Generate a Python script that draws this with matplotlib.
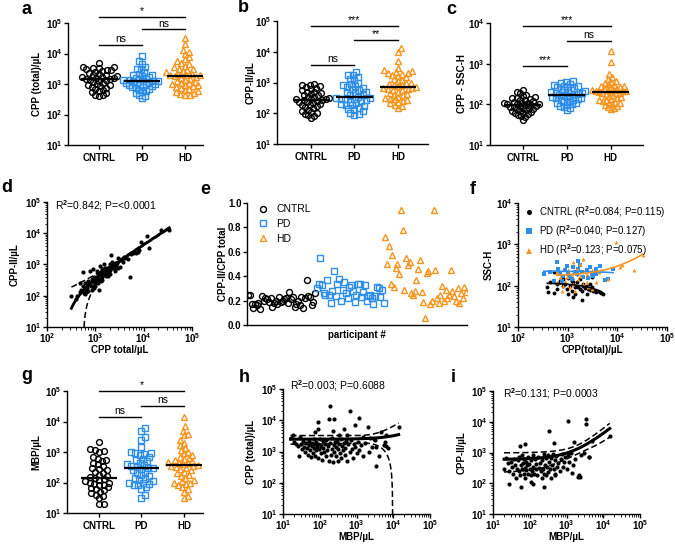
import numpy as np
import matplotlib
matplotlib.use('Agg')
import matplotlib.pyplot as plt
from matplotlib.ticker import FuncFormatter, FixedLocator, LogLocator, NullFormatter, NullLocator

plt.rcParams.update({
    'font.family': 'Liberation Sans', 'font.size': 7, 'font.weight': 'bold',
    'mathtext.fontset': 'custom', 'mathtext.rm': 'Liberation Sans',
    'mathtext.bf': 'Liberation Sans:bold', 'mathtext.it': 'Liberation Sans:italic',
    'axes.linewidth': 1.0,
})

# ---------------- data ----------------
groups = ['CNTRL', 'PD', 'HD']
BLUE = '#2f8fe8'
ORANGE = '#f7941d'

a_cntrl = [4800, 3600, 3500, 3400, 3300, 3000, 2900, 2800, 2700, 2500, 2300, 2200, 2000, 1900, 1800, 1700, 1650, 1600, 1550, 1500,
           1450, 1400, 1350, 1300, 1200, 1100, 1000, 950, 900, 850, 800, 750, 700, 650, 600, 550, 500, 450, 420, 400]
a_pd = [8500, 5500, 4500, 3500, 3200, 3000, 2500, 2200, 2000, 1900, 1800, 1700, 1600, 1500, 1450, 1400, 1350, 1300, 1250, 1250,
        1200, 1150, 1100, 1050, 1000, 1000, 950, 900, 850, 800, 780, 750, 700, 650, 600, 550, 500, 450, 400, 350]
a_hd = [33000, 20000, 13000, 11000, 9500, 7500, 6500, 5500, 5000, 4500, 4000, 3500, 3200, 3000, 2800, 2600, 2400, 2200, 2100, 2000,
        2000, 1900, 1800, 1700, 1600, 1500, 1400, 1300, 1200, 1100, 1050, 1000, 950, 900, 850, 800, 750, 700, 650, 600,
        550, 500, 480, 450, 450]

b_cntrl = [900, 850, 800, 750, 700, 650, 600, 550, 500, 480, 450, 420, 400, 380, 350, 330, 310, 300, 290, 280,
           270, 260, 250, 240, 230, 220, 200, 190, 180, 170, 160, 150, 130, 120, 110, 100, 95, 90, 80, 70]
b_pd = [2200, 1800, 1700, 1500, 1300, 1200, 1000, 900, 800, 750, 700, 650, 600, 550, 500, 480, 450, 400, 380, 350,
        320, 310, 300, 290, 280, 260, 250, 240, 220, 200, 190, 180, 170, 150, 140, 130, 120, 100, 95, 90]
b_hd = [13000, 10000, 5000, 3000, 2500, 2300, 2200, 2100, 2000, 1900, 1800, 1600, 1500, 1300, 1200, 1100, 1000, 950, 900, 850,
        800, 750, 700, 680, 650, 620, 600, 580, 550, 500, 450, 420, 400, 380, 350, 320, 300, 280, 260, 250,
        230, 210, 190, 170, 150]

c_cntrl = [220, 200, 190, 170, 160, 150, 145, 140, 135, 130, 125, 120, 115, 110, 108, 105, 102, 100, 100, 98,
           95, 92, 90, 88, 85, 82, 80, 78, 75, 72, 70, 68, 65, 62, 60, 58, 55, 52, 48, 42]
c_pd = [380, 360, 340, 320, 300, 290, 280, 270, 260, 250, 240, 230, 220, 210, 200, 195, 190, 185, 180, 175,
        170, 165, 160, 155, 150, 145, 140, 135, 130, 125, 120, 115, 110, 105, 100, 95, 90, 85, 80, 72]
c_hd = [2100, 1100, 550, 470, 420, 380, 360, 340, 320, 300, 290, 280, 270, 260, 250, 240, 230, 225, 220, 215,
        210, 210, 205, 200, 195, 190, 185, 180, 170, 160, 150, 140, 135, 130, 125, 120, 115, 110, 105, 100,
        95, 90, 85, 80, 78]

g_cntrl = [2200, 1300, 1200, 1100, 1000, 700, 600, 550, 500, 450, 400, 350, 300, 280, 250, 220, 200, 180, 160, 150,
           140, 130, 120, 110, 100, 95, 90, 85, 80, 70, 65, 60, 55, 50, 45, 40, 35, 30, 20, 20]
g_pd = [6000, 4800, 3200, 2500, 1500, 1000, 950, 900, 850, 800, 700, 600, 550, 500, 450, 400, 380, 350, 320, 300,
        290, 280, 250, 220, 200, 180, 160, 140, 130, 120, 110, 100, 95, 90, 85, 80, 70, 60, 40, 32]
g_hd = [14000, 7000, 5000, 4000, 3500, 2500, 2000, 1700, 1400, 1200, 1000, 900, 800, 700, 650, 600, 550, 500, 480, 450,
        420, 400, 380, 360, 340, 320, 300, 280, 250, 220, 200, 180, 160, 140, 120, 110, 100, 95, 90, 80,
        70, 60, 50, 35, 30]

e_cntrl = [0.25, 0.25, 0.17, 0.14, 0.17, 0.16, 0.18, 0.13, 0.24, 0.20, 0.22, 0.21, 0.19, 0.22, 0.15, 0.18, 0.20, 0.17, 0.23, 0.19,
           0.20, 0.21, 0.22, 0.18, 0.27, 0.21, 0.23, 0.15, 0.17, 0.20, 0.16, 0.23, 0.14, 0.22, 0.37, 0.24, 0.23, 0.16, 0.19, 0.26]
e_pd = [0.30, 0.34, 0.55, 0.33, 0.26, 0.25, 0.37, 0.25, 0.18, 0.28, 0.44, 0.24, 0.34, 0.38, 0.20, 0.29, 0.35, 0.26, 0.22, 0.31,
        0.33, 0.28, 0.19, 0.25, 0.34, 0.34, 0.23, 0.27, 0.33, 0.20, 0.24, 0.25, 0.22, 0.17, 0.24, 0.31, 0.30, 0.23, 0.29, 0.18]
e_hd = [0.72, 0.50, 0.65, 0.34, 0.57, 0.31, 0.47, 0.50, 0.42, 0.94, 0.78, 0.29, 0.55, 0.49, 0.52, 0.26, 0.25, 0.28, 0.37, 0.46,
        0.53, 0.27, 0.19, 0.06, 0.43, 0.44, 0.17, 0.20, 0.94, 0.45, 0.22, 0.18, 0.25, 0.32, 0.20, 0.29, 0.22, 0.25, 0.45, 0.28,
        0.24, 0.20, 0.30, 0.18, 0.26, 0.22, 0.31, 0.27]

d_cpp_total = [34000, 23000, 11500, 13000, 9000, 6800, 5500, 4700, 5100, 3000, 2100, 3200, 2700,
               320, 390, 420, 480, 560, 480, 600, 650, 760, 700, 830, 900, 1050, 1150, 1330, 1450, 1700, 1800, 1950, 2050, 2300, 2500, 1230,
               500, 550, 600, 620, 680, 700, 750, 800, 850, 900, 950, 1000, 1000, 1050, 1100, 1100, 1200, 1250, 1300, 1350,
               1400, 1500, 1500, 1600, 1600, 1700, 1800, 1900, 2000, 2100, 2200, 2400, 2600, 2800, 3500, 4000, 4200, 6000, 7500, 8000,
               3800, 1150, 950, 850, 1300, 1400, 1700, 2000, 2500, 3000, 700, 580, 1200, 1000, 1800, 2200, 1500, 900]
d_cpp2 = [13000, 13000, 8200, 3400, 5200, 2400, 2150, 1500, 390, 1600, 2050, 820, 930,
          100, 78, 100, 130, 570, 255, 165, 130, 600, 220, 280, 210, 345, 460, 565, 720, 720, 440, 565, 1050, 820, 640, 880,
          150, 200, 250, 110, 180, 300, 250, 200, 350, 300, 400, 250, 350, 280, 400, 600, 350, 500, 450, 700,
          400, 550, 650, 500, 800, 600, 700, 800, 650, 900, 750, 900, 1000, 1100, 1400, 1800, 1600, 2300, 2600, 3000,
          1200, 250, 180, 150, 300, 320, 420, 500, 700, 800, 140, 120, 150, 200, 550, 1200, 1000, 700]

f_cntrl_x = [390, 410, 520, 600, 700, 820, 950, 1030, 1200, 1300, 1400, 1510, 1770, 1900, 2060, 2400, 2590, 2800, 3020, 3260,
             3520, 3800, 4100, 4430, 4790, 5170, 1900, 1400, 520, 820, 1200, 1510, 3020, 600, 700, 900, 1100, 1300, 1600, 2200,
             2500, 2800, 1800, 450, 1000, 1200, 2000]
f_cntrl_y = [91, 69, 65, 110, 133, 100, 83, 63, 75, 54, 91, 121, 146, 75, 100, 63, 83, 110, 91, 75,
             75, 69, 75, 69, 65, 63, 45, 63, 212, 146, 146, 193, 160, 83, 120, 110, 100, 120, 95, 90,
             100, 80, 85, 120, 150, 130, 110]
f_pd_x = [330, 600, 650, 950, 1200, 1400, 1640, 1770, 2400, 3020, 3800, 4430, 5570, 6500, 8200, 820, 1100, 2060, 1300, 3260,
          520, 700, 2800, 1900, 900, 1030, 1510, 440, 760, 2590, 3800, 1640]
f_pd_y = [193, 372, 255, 292, 146, 212, 393, 309, 233, 193, 255, 292, 138, 146, 255, 175, 160, 160, 280, 175,
          133, 193, 280, 212, 233, 193, 193, 212, 133, 155, 193, 255]
f_hd_x = [9260, 11100, 12600, 21500, 32500, 6500, 4300, 3020, 2400, 2060, 1770, 1510, 1300, 1200, 1030, 900, 820, 760, 1100, 1300,
          1640, 2060, 2590, 3020, 950, 700, 600, 2400, 3800, 1770, 1400, 600]
f_hd_y = [1150, 281, 309, 233, 540, 146, 212, 233, 193, 450, 340, 255, 372, 193, 233, 133, 100, 75, 91, 110,
          146, 110, 91, 83, 160, 160, 212, 121, 121, 175, 75, 121]

h_mbp = [190, 680, 183, 245, 1200, 91, 89, 910, 2000, 14000, 4500, 450, 235, 75, 19, 29, 325, 550, 1550, 2350,
         3200, 3500, 6000, 6400, 4000, 3500,
         20, 22, 25, 28, 30, 33, 35, 38, 40, 42, 45, 48, 50, 52, 55, 58, 60, 62, 65, 68,
         70, 72, 75, 78, 80, 85, 88, 90, 95, 100, 105, 110, 115, 120, 125, 130, 140, 145, 150, 160,
         170, 180, 190, 200, 210, 220, 230, 240, 250, 260, 270, 280, 300, 310, 320, 340, 350, 370, 380, 400,
         420, 450, 480, 500, 520, 550, 600, 650, 700, 750, 800, 850, 900, 1000, 1100, 1200, 1300, 1500, 1700, 2200,
         2600, 3000, 5500, 7000, 6500, 16]
h_cpp_total = [29000, 19500, 10800, 10800, 12000, 8900, 5400, 7200, 5900, 6000, 4200, 5400, 4400, 4200, 3300, 2900, 3300, 3300, 2900, 2700,
               2250, 1380, 2000, 1500, 740, 340,
               2000, 1700, 1500, 700, 1800, 1200, 2200, 1400, 1000, 1900, 1300, 800, 1600, 2100, 1100, 650, 1500, 1900, 900, 1300,
               2500, 700, 1700, 1100, 2000, 1400, 600, 1800, 1200, 2600, 900, 1500, 550, 2100, 1300, 1000, 1700, 700, 2300, 1100,
               1500, 500, 1900, 800, 2700, 1200, 450, 1600, 1000, 2000, 700, 1400, 2200, 500, 1200, 1800, 900, 2500, 600, 1500,
               1100, 1900, 800, 1300, 2100, 500, 1700, 1000, 2400, 1200, 600, 1800, 1400, 900, 2000, 1100, 1600, 700, 1900, 1000,
               1400, 2600, 1600, 1300, 3400, 2800]

i_mbp = [1120, 3300, 3300, 340, 15000, 5000, 1620, 470, 53, 72, 4100, 28, 59, 250, 110, 120, 2000, 2200, 2400, 1450, 500,
         20, 22, 25, 28, 30, 33, 35, 38, 40, 42, 45, 48, 50, 52, 55, 58, 60, 62, 65, 68,
         70, 72, 75, 78, 80, 85, 88, 90, 95, 100, 105, 110, 115, 120, 125, 130, 140, 145, 150, 160,
         170, 180, 190, 200, 210, 220, 230, 240, 250, 260, 270, 280, 300, 310, 320, 340, 350, 370, 380, 400,
         420, 450, 480, 500, 520, 550, 600, 650, 700, 750, 800, 850, 900, 1000, 1100, 1200, 1300, 1500, 1700, 2500,
         3000, 4000]
i_cpp2 = [10700, 12600, 8700, 5000, 3400, 2300, 2200, 2050, 1600, 1950, 720, 98, 77, 77, 112, 94, 160, 180, 155, 210, 180,
          300, 650, 450, 250, 500, 350, 200, 600, 400, 150, 300, 550, 250, 700, 180, 380, 800, 280, 450, 200,
          600, 320, 150, 500, 260, 380, 700, 200, 430, 300, 180, 550, 250, 850, 350, 200, 600, 280, 420, 180,
          700, 320, 450, 250, 150, 550, 300, 900, 200, 400, 650, 180, 350, 800, 230, 500, 280, 650, 150, 400,
          900, 300, 550, 200, 750, 350, 450, 250, 600, 900, 350, 500, 700, 300, 850, 500, 950, 400, 600, 800,
          1000, 700]

sig_a = [(0, 1, 'ns', 19000), (1, 2, 'ns', 62000), (0, 2, '*', 160000)]
sig_b = [(0, 1, 'ns', 3700), (1, 2, '**', 24000), (0, 2, '***', 69000)]
sig_c = [(0, 1, '***', 880), (1, 2, 'ns', 3700), (0, 2, '***', 8300)]
sig_g = [(0, 1, 'ns', 14000), (1, 2, 'ns', 32000), (0, 2, '*', 100000)]

stats_d = 'R$^2$=0.842; P=<0.0001'
stats_h = 'R$^2$=0.003; P=0.6088'
stats_i = 'R$^2$=0.131; P=0.0003'
f_labels = ['CNTRL (R$^2$=0.084; P=0.115)', 'PD (R$^2$=0.040; P=0.127)', 'HD (R$^2$=0.123; P=0.075)']

# ---------------- helpers ----------------
W, H = 675, 545
fig = plt.figure(figsize=(W / 100, H / 100), dpi=100)


def axpx(l, t, r, b):
    return fig.add_axes([l / W, 1 - b / H, (r - l) / W, (b - t) / H])


def logfmt(v, pos):
    return r'$\mathbf{10^{%d}}$' % int(round(np.log10(v)))


def base_style(ax):
    ax.spines['top'].set_visible(False)
    ax.spines['right'].set_visible(False)
    ax.tick_params(which='major', direction='out', length=3, width=1, pad=1.0, labelsize=7)
    ax.tick_params(which='minor', direction='out', length=1.8, width=0.6)


def log_axis(axis, lo_e, hi_e, minor=True):
    axis.set_major_locator(FixedLocator([10.0 ** e for e in range(lo_e, hi_e + 1)]))
    axis.set_major_formatter(FuncFormatter(logfmt))
    if minor:
        axis.set_minor_locator(LogLocator(base=10, subs=np.arange(2, 10)))
    else:
        axis.set_minor_locator(NullLocator())
    axis.set_minor_formatter(NullFormatter())


def swarm_x(ax, xc, vals, d, cap):
    vals = np.asarray(vals, float)
    pts = ax.transData.transform(np.column_stack([np.full(len(vals), xc), vals]))
    ys = pts[:, 1]
    x0 = pts[0, 0]
    order = np.argsort(ys)
    px, py = [], []
    offs = np.zeros(len(vals))
    for i in order:
        y = ys[i]
        cands = [0.0]
        for qx, qy in zip(px, py):
            dy = abs(qy - y)
            if dy < d:
                dx = np.sqrt(d * d - dy * dy)
                cands += [qx + dx, qx - dx]
        cands.sort(key=abs)
        chosen = 0.0
        for c in cands:
            if all((c - qx) ** 2 + (y - qy) ** 2 >= d * d - 1e-6 for qx, qy in zip(px, py)):
                chosen = c
                break
        px.append(chosen)
        py.append(y)
        offs[i] = chosen
    m = np.max(np.abs(offs))
    if m > cap:
        offs = offs * cap / m
    back = ax.transData.inverted().transform(np.column_stack([x0 + offs, ys]))
    return back[:, 0]


def ylabel_at(ax, text, cx_px, l, r):
    ax.set_ylabel(text, fontsize=7, fontweight='bold')
    ax.yaxis.set_label_coords((cx_px + 4.5 - l) / (r - l), 0.5)


def xlabel_at(ax, text, top_px, t, b):
    ax.set_xlabel(text, fontsize=7, fontweight='bold')
    ax.xaxis.set_label_coords(0.5, -(top_px - b) / (b - t))


def dot_panel(box, data, ylab, ylab_x, sigs, top_e, xlim):
    l, t, r, b = box
    ax = axpx(l, t, r, b)
    base_style(ax)
    ax.set_yscale('log')
    ax.set_ylim(10, 10.0 ** top_e)
    ax.set_xlim(*xlim)
    log_axis(ax.yaxis, 1, top_e, minor=False)
    ax.set_xticks([0, 1, 2])
    ax.set_xticklabels(groups, fontweight='bold')
    ax.tick_params(axis='x', length=3, pad=3)
    styles = [('o', 'k'), ('s', BLUE), ('^', ORANGE)]
    for k, vals in enumerate(data):
        xs = swarm_x(ax, k, vals, 4.8, 18.5)
        m, c = styles[k]
        ax.plot(xs, vals, m, ls='none', mfc='none', mec=c, ms=4.2, mew=1.0, zorder=3)
        ax.hlines(np.median(vals), k - 0.42, k + 0.42, color='k', lw=1.6, zorder=5)
    for x1, x2, lab, yv in sigs:
        ax.plot([x1, x2], [yv, yv], color='k', lw=1.0, clip_on=False, zorder=6)
        ax.text((x1 + x2) / 2, yv * 1.05, lab, ha='center', va='bottom', fontsize=7.5,
                fontweight='normal', clip_on=False)
    ylabel_at(ax, ylab, ylab_x, l, r)
    return ax


def fit_ci(x, y, xs):
    x = np.asarray(x, float)
    y = np.asarray(y, float)
    slope, inter = np.polyfit(x, y, 1)
    yhat = inter + slope * xs
    res = y - (inter + slope * x)
    n = len(x)
    s = np.sqrt(np.sum(res ** 2) / (n - 2))
    se = s * np.sqrt(1.0 / n + (xs - x.mean()) ** 2 / np.sum((x - x.mean()) ** 2))
    return yhat, yhat - 1.98 * se, yhat + 1.98 * se


def pos(v):
    v = np.asarray(v, float)
    return np.where(v > 0, v, np.nan)


def scatter_panel(box, x, y, xe, ye, ylab, ylab_x, xlab, xlab_top, stats, stats_px, lw_fit):
    l, t, r, b = box
    ax = axpx(l, t, r, b)
    base_style(ax)
    ax.tick_params(axis='x', which='major', pad=0.3)
    ax.set_xscale('log')
    ax.set_yscale('log')
    ax.set_xlim(10.0 ** xe[0], 10.0 ** xe[1])
    ax.set_ylim(10.0 ** ye[0], 10.0 ** ye[1])
    log_axis(ax.xaxis, xe[0], xe[1])
    log_axis(ax.yaxis, ye[0], ye[1])
    n = min(len(x), len(y))
    x = np.asarray(x[:n], float)
    y = np.asarray(y[:n], float)
    ax.plot(x, y, 'o', color='k', ms=3.0, mew=0, zorder=3)
    xs = np.logspace(np.log10(x.min()), np.log10(x.max()), 400)
    yh, lo, hi = fit_ci(x, y, xs)
    ax.plot(xs, pos(yh), color='k', lw=lw_fit, zorder=4)
    ax.plot(xs, pos(lo), color='k', lw=1.1, ls=(0, (4, 2)), zorder=4)
    ax.plot(xs, pos(hi), color='k', lw=1.1, ls=(0, (4, 2)), zorder=4)
    ylabel_at(ax, ylab, ylab_x, l, r)
    xlabel_at(ax, xlab, xlab_top, t, b)
    fig.text(stats_px[0] / W, 1 - stats_px[1] / H, stats, fontsize=7.5, fontweight='normal',
             ha='left', va='center')
    return ax


# ---------------- row 1 ----------------
dot_panel((68, 23, 203, 145), [a_cntrl, a_pd, a_hd], 'CPP (total)/µL', 38, sig_a, 5, (-0.72, 2.42))
dot_panel((277, 21, 428, 144), [b_cntrl, b_pd, b_hd], 'CPP-II/µL', 251, sig_b, 5, (-0.78, 2.69))
dot_panel((490, 23, 643, 145), [c_cntrl, c_pd, c_hd], 'CPP - SSC-H', 462, sig_c, 4, (-0.74, 2.73))

# ---------------- row 2 ----------------
scatter_panel((47, 202, 192, 327), d_cpp_total, d_cpp2, (2, 5), (1, 5), 'CPP-II/µL', 15,
              'CPP total/µL', 345, stats_d, (55, 206), 2.0)

# panel e
l, t, r, b = 247, 203, 467, 325
axe = axpx(l, t, r, b)
base_style(axe)
n1, n2, n3 = len(e_cntrl), len(e_pd), len(e_hd)
idx = np.arange(1, n1 + n2 + n3 + 1)
axe.plot(idx[:n1], e_cntrl, 'o', ls='none', mfc='none', mec='k', ms=4.3, mew=1.0, label='CNTRL')
axe.plot(idx[n1:n1 + n2], e_pd, 's', ls='none', mfc='none', mec=BLUE, ms=4.3, mew=1.0, label='PD')
axe.plot(idx[n1 + n2:], e_hd, '^', ls='none', mfc='none', mec=ORANGE, ms=4.3, mew=1.0, label='HD')
axe.set_xlim(0.3, n1 + n2 + n3 + 0.5)
axe.set_ylim(0, 1.0)
axe.set_yticks(np.arange(0, 1.01, 0.2))
axe.yaxis.set_major_formatter(FuncFormatter(lambda v, p: '%.1f' % v))
axe.set_xticks([])
ylabel_at(axe, 'CPP-II/CPP total', 224, l, r)
xlabel_at(axe, 'participant #', 330, t, b)
axe.legend(loc='upper left', bbox_to_anchor=(0.02, 1.04), frameon=False, handletextpad=0.8,
           labelspacing=0.45, borderaxespad=0.2, prop={'weight': 'normal', 'size': 7.5}, handlelength=1.0)

# panel f
l, t, r, b = 518, 203, 667, 327
axf = axpx(l, t, r, b)
base_style(axf)
axf.tick_params(axis='x', which='major', pad=0.3)
axf.set_xscale('log')
axf.set_yscale('log')
axf.set_xlim(1e2, 1e5)
axf.set_ylim(1e1, 1e4)
log_axis(axf.xaxis, 2, 5)
log_axis(axf.yaxis, 1, 4)
fsets = [(f_cntrl_x, f_cntrl_y, 'o', 'k'), (f_pd_x, f_pd_y, 's', BLUE), (f_hd_x, f_hd_y, '^', ORANGE)]
handles = []
for (fx, fy, m, c), lab in zip(fsets, f_labels):
    n = min(len(fx), len(fy))
    fx = np.asarray(fx[:n], float)
    fy = np.asarray(fy[:n], float)
    hnd, = axf.plot(fx, fy, m, ls='none', color=c, ms=2.8, mew=0, zorder=3, label=lab)
    handles.append(hnd)
    xs = np.logspace(np.log10(fx.min()), np.log10(fx.max()), 200)
    yh, _, _ = fit_ci(fx, fy, xs)
    axf.plot(xs, pos(yh), color=c, lw=1.2, zorder=4)
ylabel_at(axf, 'SSC-H', 489, l, r)
xlabel_at(axf, 'CPP(total)/µL', 345, t, b)
axf.legend(handles=handles, loc='upper left', bbox_to_anchor=(0.0, 1.04), frameon=False,
           handletextpad=0.6, labelspacing=0.35, borderaxespad=0.2, handlelength=1.0,
           prop={'weight': 'normal', 'size': 7}, markerscale=1.3)

# ---------------- row 3 ----------------
dot_panel((67, 391, 203, 513), [g_cntrl, g_pd, g_hd], 'MBP/µL', 37, sig_g, 5, (-0.75, 2.45))
scatter_panel((283, 389, 430, 514), h_mbp, h_cpp_total, (1, 5), (1, 5), 'CPP (total)/µL', 251,
              'MBP/µL', 532, stats_h, (290, 386), 2.2)
scatter_panel((493, 391, 640, 514), i_mbp, i_cpp2, (1, 5), (1, 5), 'CPP-II/µL', 462,
              'MBP/µL', 532, stats_i, (503, 394), 2.2)

# panel letters
for lab, (px, py) in zip('abcdefghi', [(27, 10), (243, 8), (451, 10), (7, 187), (205, 189), (473, 189),
                                       (27, 376), (244, 377), (453, 378)]):
    fig.text(px / W, 1 - py / H, lab, fontsize=13, fontweight='bold', ha='center', va='center')

fig.savefig('out.png', dpi=100)
